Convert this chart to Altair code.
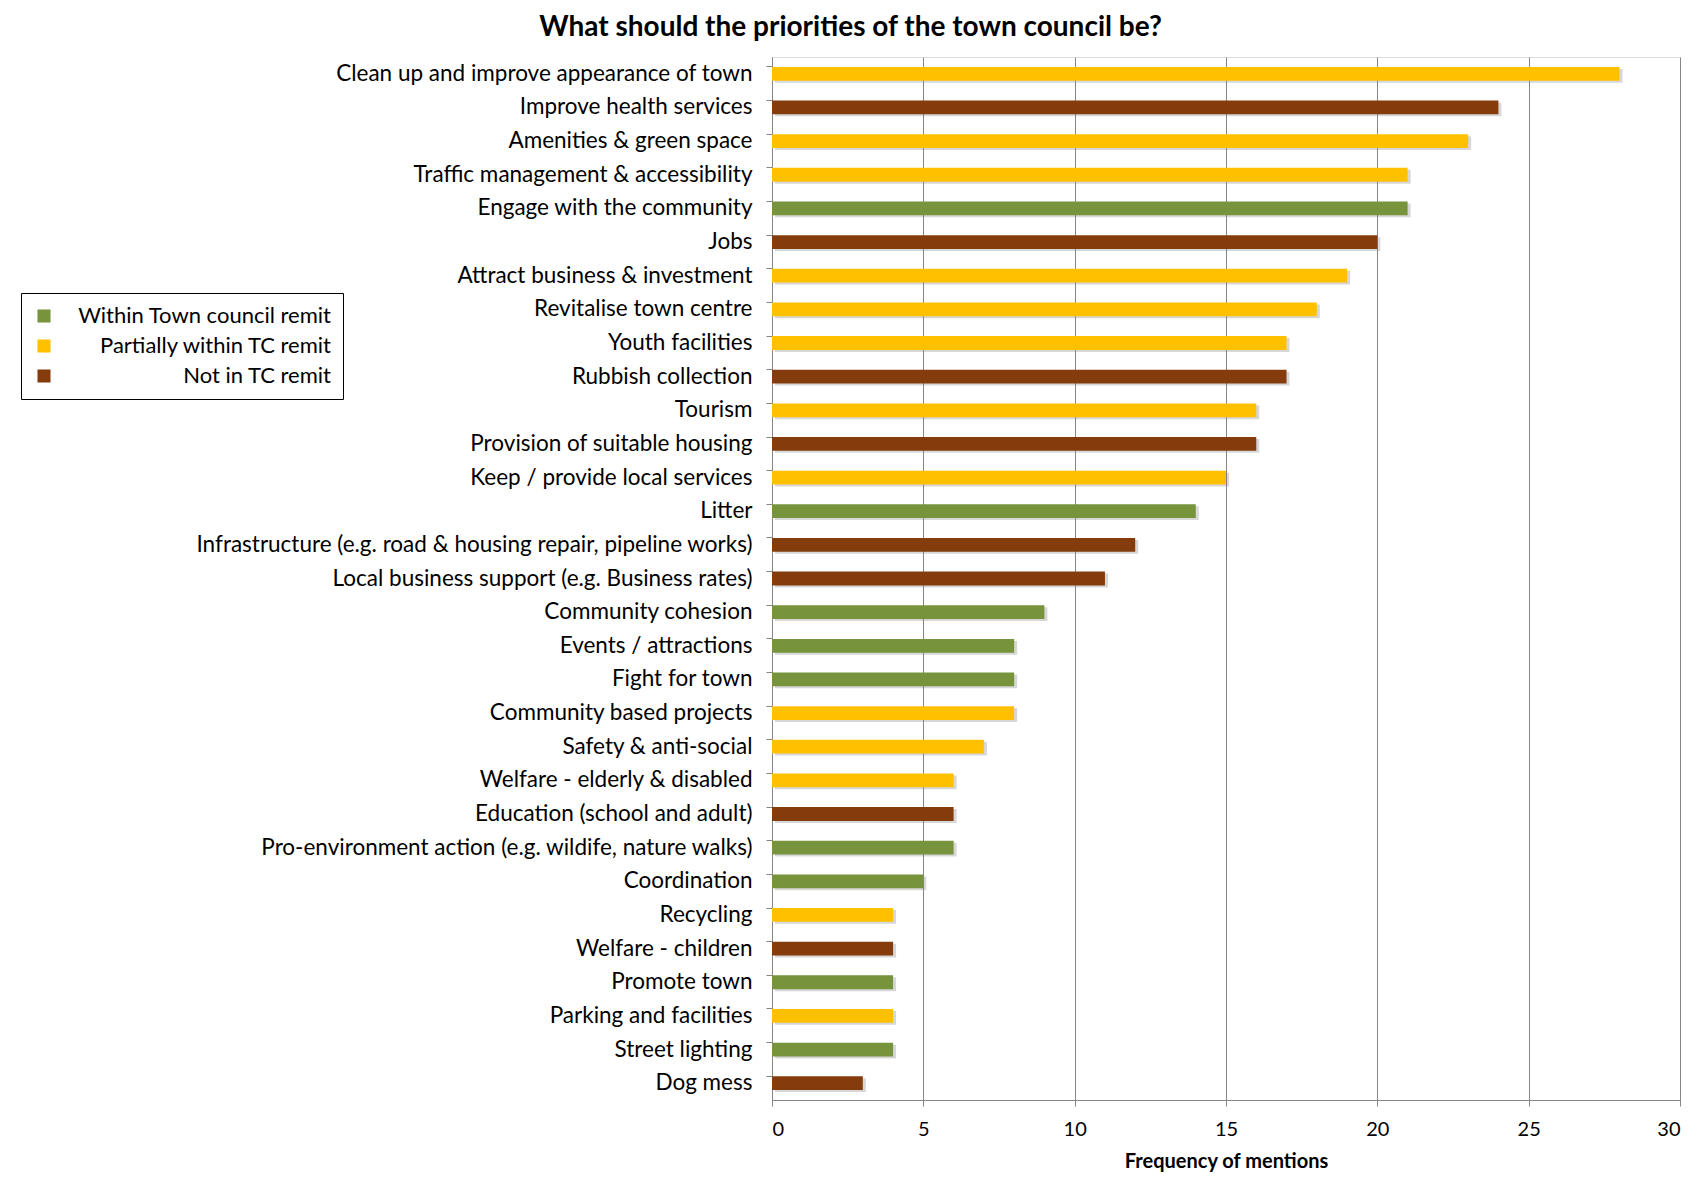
import altair as alt
import pandas as pd

categories = [
    "Clean up and improve appearance of town",
    "Improve health services",
    "Amenities & green space",
    "Traffic management & accessibility",
    "Engage with the community",
    "Jobs",
    "Attract business & investment",
    "Revitalise town centre",
    "Youth facilities",
    "Rubbish collection",
    "Tourism",
    "Provision of suitable housing",
    "Keep / provide local services",
    "Litter",
    "Infrastructure (e.g. road & housing repair, pipeline works)",
    "Local business support (e.g. Business rates)",
    "Community cohesion",
    "Events / attractions",
    "Fight for town",
    "Community based projects",
    "Safety & anti-social",
    "Welfare - elderly & disabled",
    "Education (school and adult)",
    "Pro-environment action (e.g. wildife, nature walks)",
    "Coordination",
    "Recycling",
    "Welfare - children",
    "Promote town",
    "Parking and facilities",
    "Street lighting",
    "Dog mess",
]
values = [28, 24, 23, 21, 21, 20, 19, 18, 17, 17, 16, 16, 15, 14, 12, 11,
          9, 8, 8, 8, 7, 6, 6, 6, 5, 4, 4, 4, 4, 4, 3]
W, P, N = "Within Town council remit", "Partially within TC remit", "Not in TC remit"
remit = [P, N, P, P, W, N, P, P, P, N, P, N, P, W, N, N,
         W, W, W, P, P, P, N, W, W, P, N, W, P, W, N]
legend_labels = [W, P, N]
legend_colors = ["#77933C", "#FFC000", "#843C0C"]

df = pd.DataFrame({"category": categories, "value": values, "remit": remit})

FONT = "Lato"

y_enc = alt.Y("category:N", sort=categories, title=None,
              scale=alt.Scale(paddingInner=0.59, paddingOuter=0.295),
              axis=alt.Axis(labelFontSize=22.5, labelFont=FONT, labelColor="#000000",
                            labelPadding=14, tickSize=6, tickColor="#868686",
                            domainColor="#868686", bandPosition=0, labelLimit=800))
x_enc = alt.X("value:Q", title="Frequency of mentions",
              scale=alt.Scale(domain=[0, 30], nice=False),
              axis=alt.Axis(values=[0, 5, 10, 15, 20, 25, 30], grid=True,
                            gridColor="#868686", gridWidth=1, domainColor="#868686",
                            tickColor="#868686", tickSize=6, labelFontSize=20,
                            labelFont=FONT, labelColor="#000000", labelPadding=13,
                            titleFont=FONT, titleFontSize=20, titleFontWeight="bold",
                            titleColor="#000000", titlePadding=12))

shadow = alt.Chart(df).mark_bar(color="#7a7a7a", opacity=0.3, xOffset=3, yOffset=2).encode(
    x=x_enc, y=y_enc)

bars = alt.Chart(df).mark_bar().encode(
    x=x_enc, y=y_enc,
    color=alt.Color("remit:N",
                    scale=alt.Scale(domain=legend_labels, range=legend_colors),
                    legend=alt.Legend(title=None, orient="none", legendX=-751, legendY=236,
                                      symbolType="square", symbolSize=170,
                                      symbolStrokeWidth=0, labelFont=FONT,
                                      labelFontSize=22, labelColor="#000000",
                                      labelAlign="right", labelOffset=276,
                                      labelLimit=400,
                                      rowPadding=8, padding=12,
                                      strokeColor="#000000", fillColor="#ffffff")),
)

chart = alt.layer(shadow, bars).properties(
    width=908, height=1043,
    padding={"left": 12, "top": 6, "right": 10, "bottom": 10},
    title=alt.TitleParams("What should the priorities of the town council be?",
                          font=FONT, fontSize=28, fontWeight="bold", color="#000000",
                          anchor="middle", frame="bounds", offset=15),
).configure_view(stroke=None).configure(background="#ffffff")

chart.save("out.html", embed_options={"renderer": "svg", "actions": False})
